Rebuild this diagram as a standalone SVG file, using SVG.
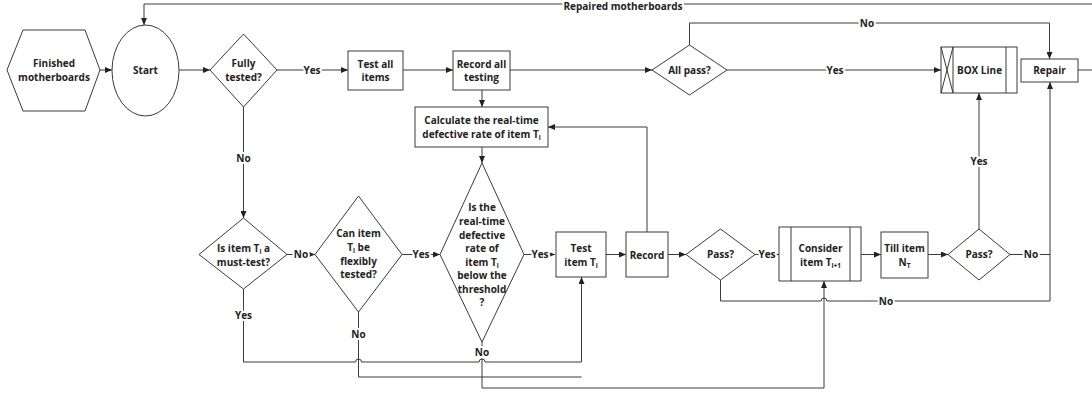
<svg xmlns="http://www.w3.org/2000/svg" width="1092" height="393" viewBox="0 0 1092 393">
<defs>
<marker id="ah" markerWidth="7" markerHeight="6" refX="7" refY="3" orient="auto" markerUnits="userSpaceOnUse">
<path d="M0,0 L7,3 L0,6 z" fill="#222"/>
</marker>
<style>
.n{fill:#fff;stroke:#3a3a3a;stroke-width:1}
.c{fill:none;stroke:#3a3a3a;stroke-width:1}
.a{marker-end:url(#ah)}
text{font-family:"Open Sans","Noto Sans","DejaVu Sans",sans-serif;font-weight:700;font-size:10px;fill:#222;text-anchor:middle}
.l{paint-order:stroke;stroke:#fff;stroke-width:4px;stroke-linejoin:round}
.s{font-size:6.5px}
</style>
</defs>
<rect width="1092" height="393" fill="#fff"/>

<g id="connectors">
<path class="c a" d="M100,70 H112"/>
<path class="c a" d="M179,70 H210"/>
<path class="c a" d="M277,70 H348"/>
<path class="c a" d="M403,70 H453"/>
<path class="c a" d="M510,70 H652"/>
<path class="c a" d="M482,90 V107"/>
<path class="c a" d="M727,70 H941"/>
<path class="c a" d="M689.5,45 V23 H1049.5 V59"/>
<path class="c a" d="M1078,70 H1097 V4 H144 V25"/>
<path class="c a" d="M482,147 V163"/>
<path class="c a" d="M243.5,107 V218"/>
<path class="c a" d="M287,254.5 H315"/>
<path class="c a" d="M402,254.5 H440"/>
<path class="c a" d="M524,254.5 H555"/>
<path class="c a" d="M606,254.5 H626"/>
<path class="c a" d="M647,232 V127 H548"/>
<path class="c a" d="M668,254.5 H686"/>
<path class="c a" d="M755,254.5 H779"/>
<path class="c a" d="M861,254.5 H881"/>
<path class="c a" d="M928,254.5 H948"/>
<path class="c a" d="M979,229 V93"/>
<path class="c" d="M1010,254.5 H1050"/>
<path class="c a" d="M720.5,280 V301 H821 a3,3 0 0 1 6,0 H1050 V82"/>
<path class="c a" d="M243.5,289 V362 H355.5 a3,3 0 0 1 6,0 H479 a3,3 0 0 1 6,0 H581.5 V277"/>
<path class="c" d="M358.5,312 V377 H581.5"/>
<path class="c a" d="M482,342 V388 H824 V281"/>
<text class="l" x="312" y="73.5">Yes</text>
<text class="l" x="835" y="73.5">Yes</text>
<text class="l" x="867" y="26.5">No</text>
<text class="l" x="623" y="9.5">Repaired motherboards</text>
<text class="l" x="243.5" y="161.5">No</text>
<text class="l" x="301" y="258">No</text>
<text class="l" x="421" y="258">Yes</text>
<text class="l" x="540" y="258">Yes</text>
<text class="l" x="767" y="258">Yes</text>
<text class="l" x="979" y="164.5">Yes</text>
<text class="l" x="1031" y="258">No</text>
<text class="l" x="886" y="304.5">No</text>
<text class="l" x="243.5" y="318.5">Yes</text>
<text class="l" x="358.5" y="337.5">No</text>
<text class="l" x="482" y="355.5">No</text>
</g>

<g id="finished">
<polygon class="n" points="7,70 23,30 85,30 100,70 85,111 23,111"/>
<text x="54" y="67">Finished</text>
<text x="54" y="81">motherboards</text>
</g>
<g id="start">
<ellipse class="n" cx="145.5" cy="70.5" rx="33.5" ry="45.5"/>
<text x="145.5" y="74">Start</text>
</g>
<g id="fully">
<polygon class="n" points="210,70 243.5,34 277,70 243.5,107"/>
<text x="243.5" y="67">Fully</text>
<text x="243.5" y="81">tested?</text>
</g>
<g id="testall">
<rect class="n" x="348" y="51" width="55" height="39"/>
<text x="375.5" y="67.5">Test all</text>
<text x="375.5" y="81">items</text>
</g>
<g id="recordall">
<rect class="n" x="453" y="51" width="57" height="39"/>
<text x="481.5" y="67.5">Record all</text>
<text x="481.5" y="81">testing</text>
</g>
<g id="allpass">
<polygon class="n" points="652,70 689.5,45 727,70 689.5,95"/>
<text x="689.5" y="74">All pass?</text>
</g>
<g id="boxline">
<rect class="n" x="941" y="47" width="76" height="46"/>
<path class="c" d="M953,47 V93 M1006,47 V93 M941,47 L953,93 M953,47 L941,93"/>
<text x="979.5" y="74">BOX Line</text>
</g>
<g id="repair">
<rect class="n" x="1021" y="59" width="57" height="23"/>
<text x="1049.5" y="74">Repair</text>
</g>
<g id="calculate">
<rect class="n" x="415" y="107" width="133" height="40"/>
<text x="481.5" y="123.5">Calculate the real-time</text>
<text x="481.5" y="138">defective rate of item T<tspan class="s" dy="2">i</tspan></text>
</g>
<g id="threshold">
<polygon class="n" points="482,163 524,254.5 482,342 440,254.5"/>
<text x="482" y="211">Is the</text>
<text x="482" y="225">real-time</text>
<text x="482" y="238.5">defective</text>
<text x="482" y="252">rate of</text>
<text x="482" y="265.5">item T<tspan class="s" dy="2">i</tspan></text>
<text x="482" y="279">below the</text>
<text x="482" y="292.5">threshold</text>
<text x="482" y="306">?</text>
</g>
<g id="musttest">
<polygon class="n" points="199,254.5 243.5,218 287,254.5 243.5,289"/>
<text x="243.5" y="251.5">Is item T<tspan class="s" dy="2">i</tspan><tspan dy="-2"> a</tspan></text>
<text x="243.5" y="265.5">must-test?</text>
</g>
<g id="flexible">
<polygon class="n" points="315,254.5 358.5,196 402,254.5 358.5,312"/>
<text x="358.5" y="237">Can item</text>
<text x="358.5" y="250.5">T<tspan class="s" dy="2">i</tspan><tspan dy="-2"> be</tspan></text>
<text x="358.5" y="264.5">flexibly</text>
<text x="358.5" y="278">tested?</text>
</g>
<g id="testitem">
<rect class="n" x="556" y="232" width="50" height="45"/>
<text x="581" y="251.5">Test</text>
<text x="581" y="265.5">item T<tspan class="s" dy="2">i</tspan></text>
</g>
<g id="record">
<rect class="n" x="626" y="232" width="42" height="45"/>
<text x="647" y="258.5">Record</text>
</g>
<g id="pass1">
<polygon class="n" points="686,254.5 720.5,229 755,254.5 720.5,280"/>
<text x="720.5" y="258">Pass?</text>
</g>
<g id="consider">
<rect class="n" x="779" y="227" width="82" height="54"/>
<path class="c" d="M791,227 V281 M850,227 V281"/>
<text x="820.5" y="251.5">Consider</text>
<text x="820.5" y="265.5">item T<tspan class="s" dy="2">i+1</tspan></text>
</g>
<g id="till">
<rect class="n" x="881" y="232" width="47" height="46"/>
<text x="904.5" y="251.5">Till item</text>
<text x="904.5" y="265.5">N<tspan class="s" dy="2">T</tspan></text>
</g>
<g id="pass2">
<polygon class="n" points="948,254.5 979,229 1010,254.5 979,280"/>
<text x="979" y="258">Pass?</text>
</g>
</svg>
